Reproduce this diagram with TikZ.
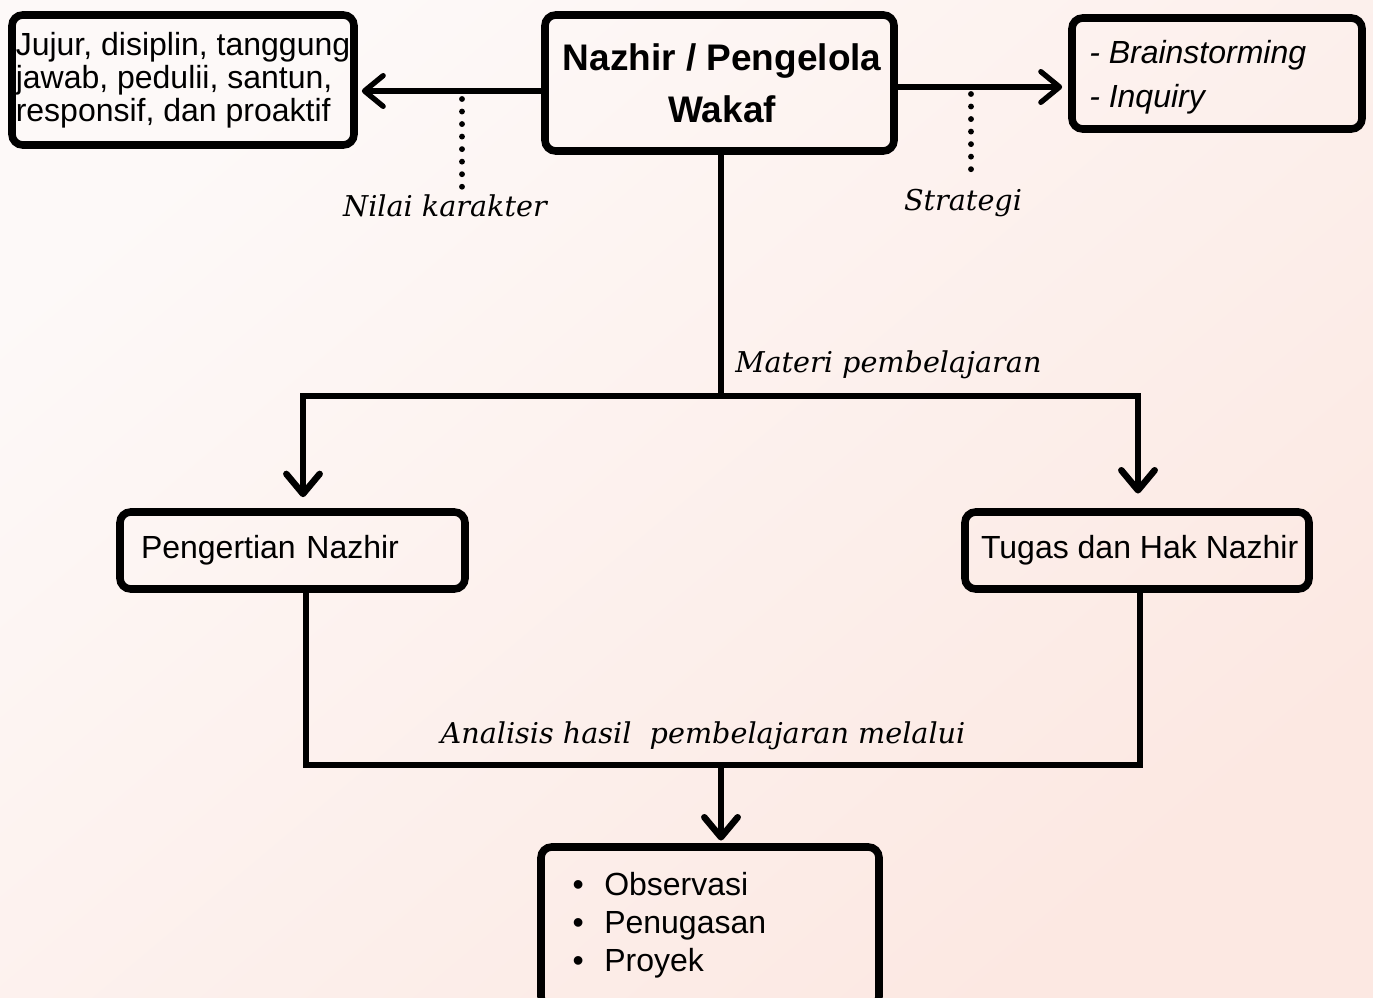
\documentclass[tikz,border=0pt]{standalone}
\usepackage{fontspec}
\setmainfont{Liberation Sans}
\newfontfamily\lblfont{DejaVu Serif}
\usetikzlibrary{arrows.meta}
\definecolor{bgA}{HTML}{FDF9F8}
\definecolor{bgB}{HTML}{FCE8E2}
\tikzset{
  box/.style={draw=black, line width=5.7pt, rounded corners=8pt, inner sep=0pt},
  boxtext/.style={font=\fontsize{24pt}{24.75pt}\selectfont},
  lbl/.style={font=\lblfont\itshape\fontsize{21.5pt}{26pt}\selectfont, inner sep=0pt},
  conn/.style={draw=black, line width=4.9pt},
  tipdown/.style={-{Straight Barb[length=15pt,width=25pt,round]}},
  arr/.style={draw=black, line width=4pt, -{Straight Barb[length=14pt,width=23pt,round]}},
  dots/.style={draw=black, line width=4.4pt, line cap=round, dash pattern=on 0pt off 9.4pt}
}
\begin{document}
\begin{tikzpicture}[x=0.75pt,y=-0.75pt]
\useasboundingbox (0,0) rectangle (1373,998);
\clip (0,0) rectangle (1373,998);
\shade[top color=bgA, bottom color=bgB, shading angle=40] (0,0) rectangle (1373,998);

% boxes
\node[box, minimum width=256.5pt, minimum height=97.5pt, align=left,
      font=\fontsize{24pt}{24.75pt}\selectfont] (jujur) at (183,80)
  {Jujur, disiplin, tanggung\\jawab, pedulii, santun,\\responsif, dan proaktif};
\node[box, minimum width=261.75pt, minimum height=102pt, align=center,
      font=\bfseries\fontsize{27.75pt}{39pt}\selectfont] (nazhir) at (719.5,83)
  {\hspace{4pt}Nazhir / Pengelola\\\hspace{4pt}Wakaf};
\node[box, minimum width=217.5pt, minimum height=83.25pt] (strat) at (1217,73.5) {};
\node[anchor=west, inner sep=0pt, align=left,
      font=\itshape\fontsize{24pt}{33pt}\selectfont] (strattext) at (1089,77.5)
  {- Brainstorming\\- Inquiry};
\node[box, boxtext, minimum width=258.75pt, minimum height=57.75pt, text width=227.25pt,
      inner xsep=15.75pt, align=left] (pengertian) at (292.5,550.5)
  {Pengertian Nazhir};
\node[box, boxtext, minimum width=258pt, minimum height=57.75pt, align=center] (tugas) at (1137,550.5)
  {\hspace{4pt}Tugas dan Hak Nazhir};
\node[box, minimum width=253.5pt, minimum height=120pt] (obs) at (710,927) {};
\node[anchor=north west, inner sep=0pt, align=left,
      font=\fontsize{24pt}{28.5pt}\selectfont] (obslist) at (572.4,872)
  {\textbullet\hspace{15.3pt}Observasi\\\textbullet\hspace{15.3pt}Penugasan\\\textbullet\hspace{15.3pt}Proyek};

% labels
\node[lbl, anchor=base] (nilai) at (445,217) {Nilai karakter};
\node[lbl, anchor=base] (strlbl) at (963,211) {Strategi};
\node[lbl, anchor=base west] (materi) at (735,373) {Materi pembelajaran};
\node[lbl, anchor=base] (analisis) at (703,743) {Analisis hasil\ \ pembelajaran melalui};

% top arrows
\draw[arr, shorten >=3pt] (nazhir.west |- 0,91) -- (jujur.east |- 0,91);
\draw[arr, shorten >=4.5pt] (nazhir.east |- 0,87) -- (strat.west |- 0,87);
\coordinate (d1) at (462,99);
\coordinate (d2) at (971,94);
\draw[dots] (d1) -- (462,190);
\draw[dots] (d2) -- (971,177);

% materi branch
\coordinate (split) at (721,396);
\draw[conn] (721,0 |- nazhir.south) -- (split);
\draw[conn, tipdown, shorten >=8.25pt] (split) -| (303,0 |- pengertian.north);
\draw[conn, tipdown, shorten >=11pt] (split) -| (1138,0 |- tugas.north);

% analysis branch
\coordinate (merge) at (721,765);
\draw[conn] (306,0 |- pengertian.south) |- (1140,765) -- (1140,0 |- tugas.south);
\draw[conn, tipdown, shorten >=2pt] (merge) -- (721,0 |- obs.north);
\end{tikzpicture}
\end{document}
